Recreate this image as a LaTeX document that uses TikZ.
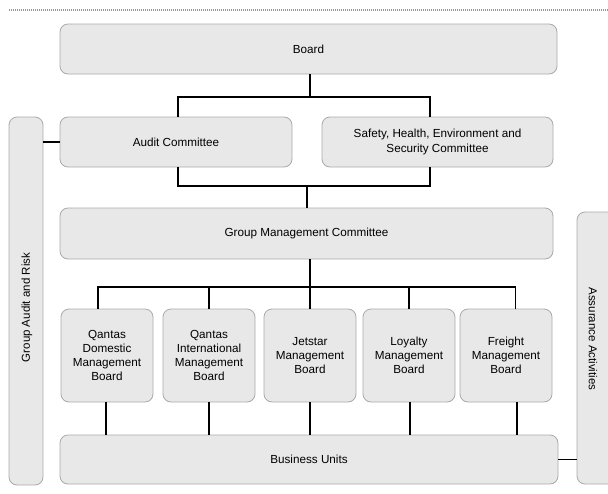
\documentclass[tikz,border=0pt]{standalone}
\usepackage{fontspec}
\setmainfont{Liberation Sans}
\definecolor{orgfill}{RGB}{232,232,232}
\definecolor{orgdraw}{RGB}{170,170,170}
\definecolor{orgdots}{RGB}{150,150,150}
\usetikzlibrary{calc}

\begin{document}
\begin{tikzpicture}[x=1pt,y=-1pt,
  orgbox/.style={draw=orgdraw,fill=orgfill,rounded corners=8pt,line width=0.8pt,
    font=\fontsize{11.7}{14.3}\selectfont,align=center,inner sep=0pt},
  sidetext/.style={font=\fontsize{11.5}{14}\selectfont,inner sep=0pt},
  link/.style={line width=1.7pt,black}]
  \useasboundingbox (0,0) rectangle (608,493);
  % top rule
  \coordinate (ruleL) at (9,10);
  \coordinate (ruleR) at (608,10);
  \draw[orgdots,line width=1.2pt,dash pattern=on 1.2pt off 0.8pt] (ruleL) -- (ruleR);
  % Board
  \node[orgbox,minimum width=497pt,minimum height=50pt] (board) at (308.5,49) {Board};
  % Committees
  \node[orgbox,minimum width=232pt,minimum height=50pt] (audit) at (176,142) {Audit Committee};
  \node[orgbox,minimum width=231pt,minimum height=50pt] (safety) at (437.5,142)
    {Safety, Health, Environment and\\Security Committee};
  % Group Management Committee
  \node[orgbox,minimum width=493pt,minimum height=51pt] (gmc) at (306.5,233.5)
    {Group Management Committee};
  % Management boards
  \node[orgbox,minimum width=92pt,minimum height=93pt] (qdom) at (107,355.5)
    {Qantas\\Domestic\\Management\\Board};
  \node[orgbox,minimum width=92pt,minimum height=93pt] (qint) at (209,355.5)
    {Qantas\\International\\Management\\Board};
  \node[orgbox,minimum width=92pt,minimum height=93pt] (jet) at (310,355.5)
    {Jetstar\\Management\\Board};
  \node[orgbox,minimum width=92pt,minimum height=93pt] (loy) at (409,355.5)
    {Loyalty\\Management\\Board};
  \node[orgbox,minimum width=92pt,minimum height=93pt] (frt) at (506,355.5)
    {Freight\\Management\\Board};
  % Business Units
  \node[orgbox,minimum width=498pt,minimum height=49pt] (bu) at (309,459.5) {Business Units};
  % side bars
  \node[orgbox,minimum width=34pt,minimum height=368pt] (gar) at (26,301) {};
  \node[sidetext,rotate=90] (gartext) at (27,307.5) {Group Audit and Risk};
  \node[orgbox,minimum width=40pt,minimum height=272pt] (assur) at (597,348) {};
  \node[sidetext,rotate=-90] (assurtext) at (593,339) {Assurance Activities};
  % junctions
  \coordinate (j1) at (310,97);
  \coordinate (j2) at (307,186);
  \coordinate (j3) at (310,287);
  % Links
  \draw[link] (board.south -| j1) -- (j1);
  \draw[link] ([xshift=2pt]audit.north) |- (j1) -| ([xshift=-7.5pt]safety.north);
  \draw[link] ([xshift=2pt]audit.south) |- (j2) -| ([xshift=-7.5pt]safety.south);
  \draw[link] (j2) -- (gmc.north -| j2);
  \draw[link] (gmc.south -| j3) -- (j3);
  \draw[link] ([xshift=-9pt]qdom.north) |- (j3) -| ([xshift=9.5pt]frt.north);
  \draw[link] (qint.north) -- (qint.north |- j3);
  \draw[link] (jet.north) -- (jet.north |- j3);
  \draw[link] (loy.north) -- (loy.north |- j3);
  \draw[link] ([xshift=-1pt]qdom.south) -- ([xshift=-1pt]qdom.south |- bu.north);
  \draw[link] (qint.south) -- (qint.south |- bu.north);
  \draw[link] (jet.south) -- (jet.south |- bu.north);
  \draw[link] ([xshift=1pt]loy.south) -- ([xshift=1pt]loy.south |- bu.north);
  \draw[link] ([xshift=11pt]frt.south) -- ([xshift=11pt]frt.south |- bu.north);
  \draw[link] (gar.east |- audit.west) -- (audit.west);
  \draw[link] (bu.east) -- (assur.west |- bu.east);
\end{tikzpicture}
\end{document}
